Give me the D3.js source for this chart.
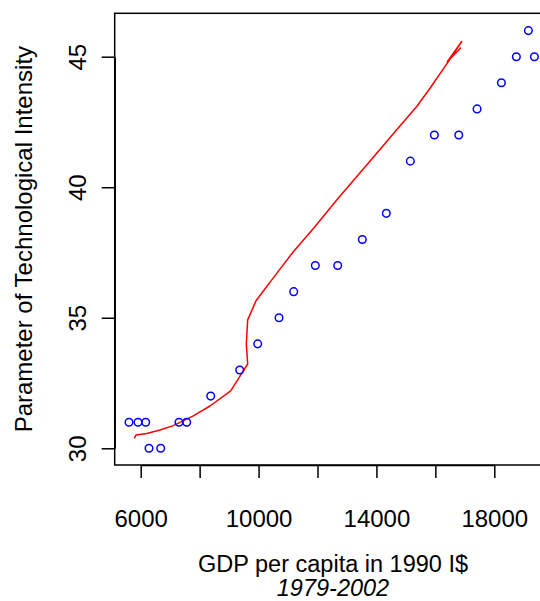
<!DOCTYPE html>
<html>
<head>
<meta charset="utf-8">
<script src="https://cdn.jsdelivr.net/npm/d3@7"></script>
<style>
  html, body { margin: 0; padding: 0; background: #fff; }
  svg { display: block; }
  text { font-family: "Liberation Sans", Arial, Helvetica, sans-serif; fill: #000; }
</style>
</head>
<body>
<svg id="chart" width="540" height="601"></svg>
<script>
// Observed data: GDP per capita (1990 I$) vs parameter of technological intensity, 1979-2002
const gdp = [5603, 5908, 6170, 6282, 6679, 7300, 7561, 8376, 9360, 9971, 10694, 11193,
             11926, 12686, 13521, 14336, 15151, 15966, 16794, 17415, 18240, 18749, 19157, 19361];
const intensity = [31, 31, 31, 30, 30, 31, 31, 32, 33, 34, 35, 36,
                   37, 37, 38, 39, 41, 42, 42, 43, 44, 45, 46, 45];

// Fitted curve (red line)
const fitGdp = [5783, 5840, 6204, 6655, 7106, 7785, 8352, 9054, 9631, 9584, 9631, 9913,
                10616, 11179, 11882, 12652, 14010, 14688, 15367, 15818, 16440, 16894, 16405, 16871];
const fitIntensity = [30.38, 30.51, 30.57, 30.70, 30.87, 31.24, 31.62, 32.20, 33.23, 34.00, 34.92, 35.65,
                      36.70, 37.53, 38.45, 39.51, 41.30, 42.20, 43.09, 43.79, 44.81, 45.58, 44.81, 45.35];

const xTicks = [6000, 8000, 10000, 12000, 14000, 16000, 18000];
const xTickLabels = [6000, 10000, 14000, 18000];
const yTicks = [30, 35, 40, 45];

const xTitle = "GDP per capita in 1990 I$";
const xSubtitle = "1979-2002";
const yTitle = "Parameter of Technological Intensity";

const svg = d3.select("#chart");
const box = { left: 114.7, top: 13.3, bottom: 465, right: 600 };

const x = d3.scaleLinear().domain([6000, 18000]).range([140.7, 494.3]);
const y = d3.scaleLinear().domain([30, 45]).range([448.3, 56.7]);

svg.append("defs").append("clipPath").attr("id", "clip")
  .append("rect")
  .attr("x", box.left).attr("y", box.top)
  .attr("width", box.right - box.left).attr("height", box.bottom - box.top);

const plot = svg.append("g").attr("clip-path", "url(#clip)");

// fitted line
const pts = fitGdp.map((g, i) => [g, fitIntensity[i]]);
plot.append("path")
  .datum(pts)
  .attr("d", d3.line().x(d => x(d[0])).y(d => y(d[1])))
  .attr("fill", "none")
  .attr("stroke", "#FF0000")
  .attr("stroke-width", 1.5)
  .attr("stroke-linejoin", "round");

// points
plot.selectAll("circle.pt")
  .data(gdp.map((g, i) => [g, intensity[i]]))
  .enter().append("circle")
  .attr("class", "pt")
  .attr("cx", d => x(d[0]))
  .attr("cy", d => y(d[1]))
  .attr("r", 3.8)
  .attr("fill", "none")
  .attr("stroke", "#0000FF")
  .attr("stroke-width", 1.5);

// box
svg.append("rect")
  .attr("x", box.left).attr("y", box.top)
  .attr("width", box.right - box.left).attr("height", box.bottom - box.top)
  .attr("fill", "none").attr("stroke", "#000").attr("stroke-width", 1.5);

// x axis
const xAxis = d3.axisBottom(x)
  .tickValues(xTicks)
  .tickSize(13)
  .tickSizeOuter(0)
  .tickFormat(d => xTickLabels.includes(d) ? String(d) : "");
const gx = svg.append("g").attr("transform", `translate(0,${box.bottom})`).call(xAxis);
gx.select(".domain").attr("stroke-width", 1.5);
gx.selectAll(".tick line").attr("stroke-width", 1.5);
gx.selectAll(".tick text")
  .attr("font-size", 24)
  .attr("y", 0).attr("dy", 0)
  .attr("transform", "translate(0,62)")
  .style("font-family", "'Liberation Sans', Arial, sans-serif");

// y axis
const yAxis = d3.axisLeft(y)
  .tickValues(yTicks)
  .tickSize(13)
  .tickSizeOuter(0)
  .tickFormat(d3.format("d"));
const gy = svg.append("g").attr("transform", `translate(${box.left},0)`).call(yAxis);
gy.select(".domain").attr("stroke-width", 1.5);
gy.selectAll(".tick line").attr("stroke-width", 1.5);
gy.selectAll(".tick text")
  .attr("font-size", 24)
  .attr("x", 0).attr("dy", 0)
  .attr("text-anchor", "middle")
  .attr("transform", "translate(-29,0) rotate(-90)")
  .style("font-family", "'Liberation Sans', Arial, sans-serif");

// titles
const titleX = 333;
svg.append("text")
  .attr("x", titleX).attr("y", 572)
  .attr("text-anchor", "middle")
  .attr("font-size", 23.5)
  .text(xTitle);
svg.append("text")
  .attr("x", titleX).attr("y", 596)
  .attr("text-anchor", "middle")
  .attr("font-size", 23.5)
  .attr("font-style", "italic")
  .text(xSubtitle);
svg.append("text")
  .attr("transform", `translate(32,${(box.top + box.bottom) / 2}) rotate(-90)`)
  .attr("text-anchor", "middle")
  .attr("font-size", 24)
  .text(yTitle);
</script>
</body>
</html>
